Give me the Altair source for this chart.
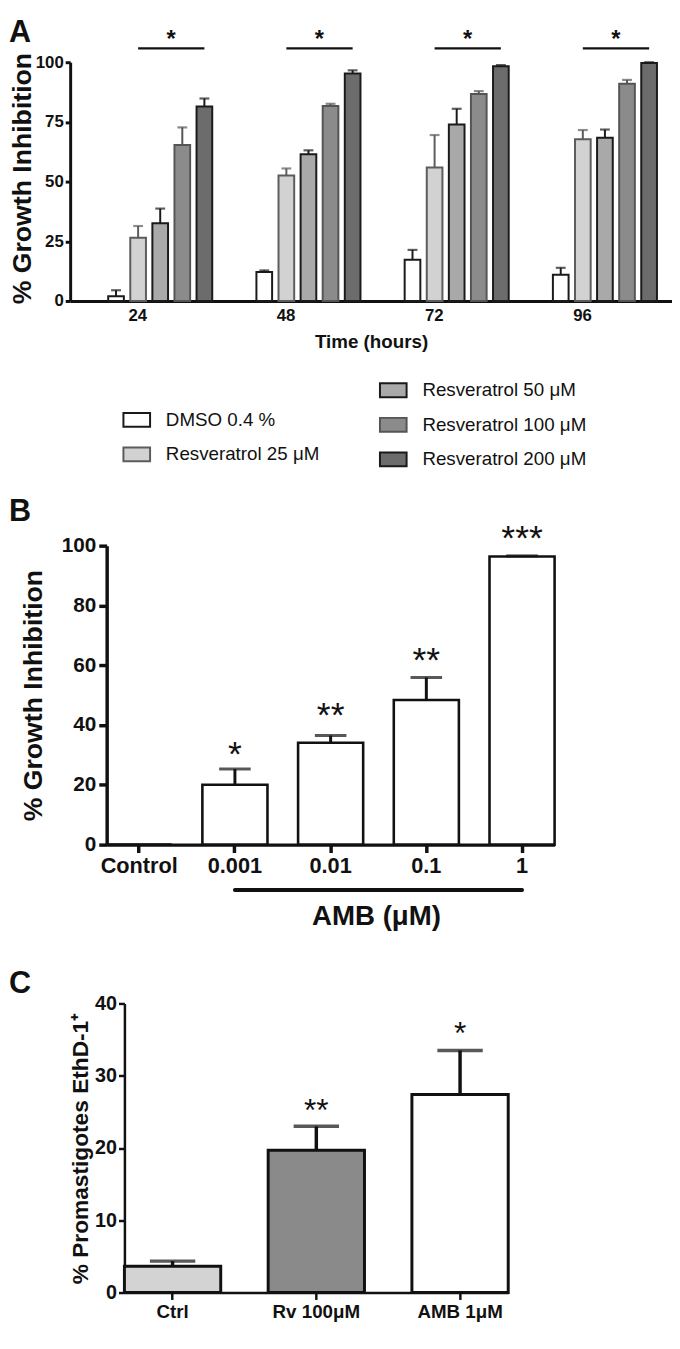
import altair as alt
import pandas as pd

FONT = "Liberation Sans"
BLACK = "#111111"

# ---------------- Panel A data ----------------
times = ["24", "48", "72", "96"]
series_names = ["DMSO 0.4 %", "Resveratrol 25 μM", "Resveratrol 50 μM",
                "Resveratrol 100 μM", "Resveratrol 200 μM"]
dmso = [2.0, 12.1, 17.3, 11.0]
dmso_sem = [2.5, 0.7, 4.1, 2.9]
rv25 = [26.5, 52.6, 55.9, 67.7]
rv25_sem = [4.9, 2.9, 13.6, 3.9]
rv50 = [32.6, 61.5, 73.9, 68.4]
rv50_sem = [6.1, 1.6, 6.6, 3.4]
rv100 = [65.3, 81.7, 86.7, 91.0]
rv100_sem = [7.4, 0.9, 1.2, 1.6]
rv200 = [81.5, 95.3, 98.3, 99.7]
rv200_sem = [3.3, 1.3, 0.5, 0.3]
a_fills = ["#ffffff", "#d2d2d2", "#a9a9a9", "#8b8b8b", "#6c6c6c"]
a_strokes = ["#1a1a1a", "#5c5c5c", "#1a1a1a", "#555555", "#1a1a1a"]
a_sig_level = 105.8
a_star_level = 111.2

# ---------------- Panel B data ----------------
b_cats = ["Control", "0.001", "0.01", "0.1", "1"]
b_vals = [0.0, 20.0, 34.1, 48.4, 96.4]
b_sem = [0.0, 5.3, 2.4, 7.5, 0.2]
b_stars = ["", "*", "**", "**", "***"]
b_star_y = [0.0, 33.3, 46.2, 64.7, 105.6]

# ---------------- Panel C data ----------------
c_cats = ["Ctrl", "Rv 100μM", "AMB 1μM"]
c_vals = [3.65, 19.7, 27.4]
c_sem = [0.7, 3.3, 6.1]
c_fills = ["#d3d3d3", "#8a8a8a", "#ffffff"]
c_stars = ["", "**", "*"]
c_star_y = [0.0, 26.4, 37.0]

# ---------------- tables ----------------
rows = []
for name, vals, sems in zip(series_names, [dmso, rv25, rv50, rv100, rv200],
                            [dmso_sem, rv25_sem, rv50_sem, rv100_sem, rv200_sem]):
    for t, v, s in zip(times, vals, sems):
        rows.append({"time": t, "series": name, "value": v, "upper": v + s})
dfA = pd.DataFrame(rows)

left_names = series_names[:2]
right_names = series_names[2:]

sig_rows = []
for t in times:
    sig_rows.append({"time": t, "series": series_names[1], "value": a_sig_level})
    sig_rows.append({"time": t, "series": series_names[4], "value": a_sig_level})
dfSig = pd.DataFrame(sig_rows)
dfStarA = pd.DataFrame({"time": times, "series": [series_names[2]] * 4,
                        "value": [a_star_level] * 4, "label": ["*"] * 4})

dfB = pd.DataFrame({"cat": b_cats, "value": b_vals,
                    "upper": [v + s for v, s in zip(b_vals, b_sem)],
                    "label": b_stars, "star": b_star_y})
dfC = pd.DataFrame({"cat": c_cats, "value": c_vals,
                    "upper": [v + s for v, s in zip(c_vals, c_sem)],
                    "label": c_stars, "star": c_star_y})

LETTER_X = -62  # panel letters sit at the far left of every panel


def y_enc(field, domain, values, title, title_size, label_size, tick_size, width,
          title_pad, label_pad=2, offset=0):
    return alt.Y(f"{field}:Q", title=title,
                 scale=alt.Scale(domain=domain, nice=False, zero=True),
                 axis=alt.Axis(values=values, tickSize=tick_size, tickWidth=width,
                               domainWidth=width, labelFontSize=label_size,
                               titleFontSize=title_size, titlePadding=title_pad,
                               labelPadding=label_pad, grid=False, offset=offset))


def letter(txt, y, opacity=1.0):
    return alt.Chart(pd.DataFrame({"t": [txt]})).mark_text(
        align="left", baseline="alphabetic", fontSize=31, fontWeight="bold",
        font=FONT, color=BLACK, opacity=opacity).encode(
        text="t:N", x=alt.value(LETTER_X), y=alt.value(y))


# ================= Panel A =================
WA, HA = 610, 242


def xA():
    return alt.X("time:N", sort=times, title="Time (hours)",
                 scale=alt.Scale(domain=times, paddingInner=0, paddingOuter=0.03),
                 axis=alt.Axis(labelAngle=0, ticks=False, tickSize=0, labelOffset=-11,
                               labelPadding=7, labelFontSize=17, titleFontSize=19,
                               titlePadding=9, domainWidth=3))


def xoA():
    return alt.XOffset("series:N", sort=series_names,
                       scale=alt.Scale(domain=series_names, paddingInner=0.29,
                                       paddingOuter=1.0, align=0.76))


def yA(field="value"):
    return y_enc(field, [0, 100], [0, 25, 50, 75, 100], None, 27, 17, 5, 3, 3)


SYM = "M-1,-0.52L1,-0.52L1,0.52L-1,0.52Z"


def legendA(lx, ly):
    return alt.Legend(orient="none", legendX=lx, legendY=ly, title=None,
                      direction="vertical", symbolType=SYM, symbolSize=729,
                      symbolStrokeWidth=2, symbolOpacity=1, labelFont=FONT,
                      labelFontSize=19, labelFontWeight="normal", labelColor=BLACK,
                      labelOffset=15, labelLimit=400, rowPadding=9, padding=0)


def bar_group(names, fills, strokes, lx, ly):
    sub = dfA[dfA["series"].isin(names)]
    return alt.Chart(sub).mark_bar(strokeWidth=2, strokeJoin="miter").encode(
        x=xA(), xOffset=xoA(), y=yA(),
        fill=alt.Fill("series:N", sort=names,
                      scale=alt.Scale(domain=names, range=fills),
                      legend=legendA(lx, ly)),
        stroke=alt.Stroke("series:N", sort=names,
                          scale=alt.Scale(domain=names, range=strokes),
                          legend=legendA(lx, ly)),
    )


barsL = bar_group(left_names, a_fills[:2], a_strokes[:2], 53, 348)
barsR = bar_group(right_names, a_fills[2:], a_strokes[2:], 313, 318)

err_layers = []
for name, col in zip(series_names, a_strokes):
    sub = dfA[dfA["series"] == name]
    err_layers.append(alt.Chart(sub).mark_rule(color=col, strokeWidth=2).encode(
        x=xA(), xOffset=xoA(), y=yA(), y2="upper:Q"))
    err_layers.append(alt.Chart(sub).mark_tick(color=col, thickness=2.2, size=10).encode(
        x=xA(), xOffset=xoA(), y=yA("upper")))

sigA = alt.Chart(dfSig).mark_line(color=BLACK, strokeWidth=2.5).encode(
    x=xA(), xOffset=xoA(), y=yA(), detail="time:N")
starA = alt.Chart(dfStarA).mark_text(fontSize=24, fontWeight="bold", font=FONT,
                                     color=BLACK, dx=11, dy=5, baseline="middle").encode(
    x=xA(), xOffset=xoA(), y=yA(), text="label:N")
titleA = alt.Chart(pd.DataFrame({"t": ["% Growth Inhibition"]})).mark_text(
    angle=270, align="center", baseline="alphabetic", fontSize=27, fontWeight="bold",
    font=FONT, color=BLACK).encode(text="t:N", x=alt.value(-40), y=alt.value(118))

panelA = alt.layer(barsL, barsR, *err_layers, sigA, starA, titleA,
                   letter("A", -21)).resolve_scale(
    fill="independent", stroke="independent").properties(width=WA, height=HA)

# ================= Panel B =================
B_OFF = 37          # y axis of B sits 37 px right of the shared origin
WB, HB = 454, 303
xB = alt.X("cat:N", sort=b_cats, title="AMB (μM)",
           scale=alt.Scale(domain=b_cats, range=[B_OFF, B_OFF + WB],
                           paddingInner=0.32, paddingOuter=0),
           axis=alt.Axis(labelAngle=0, tickSize=8, tickWidth=3.5, domainWidth=3.5,
                         labelFontSize=22, labelPadding=3, titleFontSize=28,
                         titleX=310, titleY=73, titleBaseline="middle",
                         titleAlign="center"))


def yB(field="value"):
    return y_enc(field, [0, 100], [0, 20, 40, 60, 80, 100], "% Growth Inhibition",
                 27, 21, 8, 3.5, 14, 3, offset=-B_OFF)


barsB = alt.Chart(dfB).mark_bar(fill="white", stroke=BLACK, strokeWidth=2.6).encode(
    x=xB, y=yB())
dfBe = dfB[dfB["cat"] != "Control"]
errB = alt.Chart(dfBe).mark_rule(color=BLACK, strokeWidth=3).encode(
    x=xB, y=yB(), y2="upper:Q")
capB = alt.Chart(dfBe).mark_tick(color=BLACK, thickness=3, size=32).encode(
    x=xB, y=yB("upper"))
starB = alt.Chart(dfBe).mark_text(fontSize=36, font=FONT, color=BLACK, dy=10,
                                  baseline="middle").encode(
    x=xB, y=yB("star"), text="label:N")
ambLine = alt.Chart(pd.DataFrame({"a": [b_cats[1]], "b": [b_cats[4]]})).mark_rule(
    color=BLACK, strokeWidth=4, strokeCap="round").encode(
    x=alt.X("a:N", sort=b_cats, title="AMB (μM)"), x2="b:N", y=alt.value(HB + 46))

panelB = alt.layer(barsB, errB, capB, starB, ambLine, letter("B", -25),
                   letter("B", -33, opacity=0)).properties(
    width=B_OFF + WB, height=HB)

# ================= Panel C =================
C_OFF = 55
WC, HC = 389, 293
xC = alt.X("cat:N", sort=c_cats, title=None,
           scale=alt.Scale(domain=c_cats, range=[C_OFF, C_OFF + WC],
                           paddingInner=0.33, paddingOuter=0),
           axis=alt.Axis(labelAngle=0, tickSize=7, tickWidth=2.5, domainWidth=2.5,
                         labelFontSize=19, labelPadding=3))


def yC(field="value"):
    return y_enc(field, [0, 40], [0, 10, 20, 30, 40], "% Promastigotes EthD-1⁺",
                 23, 20, 6, 2.5, 2, 2, offset=-C_OFF)


barsC = alt.Chart(dfC).mark_bar(stroke=BLACK, strokeWidth=3).encode(
    x=xC, y=yC(),
    fill=alt.Fill("cat:N", sort=c_cats, scale=alt.Scale(domain=c_cats, range=c_fills),
                  legend=None))
errC = alt.Chart(dfC).mark_rule(color=BLACK, strokeWidth=3.5).encode(
    x=xC, y=yC(), y2="upper:Q")
capC = alt.Chart(dfC).mark_tick(color=BLACK, thickness=3.5, size=46).encode(
    x=xC, y=yC("upper"))
starC = alt.Chart(dfC[dfC["label"] != ""]).mark_text(fontSize=32, font=FONT, color=BLACK,
                                                      dy=9, baseline="middle").encode(
    x=xC, y=yC("star"), text="label:N")

panelC = alt.layer(barsC, errC, capC, starC, letter("C", -11),
                   letter("C", -31, opacity=0)).properties(
    width=C_OFF + WC, height=HC)

chart = alt.vconcat(panelA, panelB, panelC, spacing=18).properties(
    padding=0
).configure_axis(
    labelFont=FONT, titleFont=FONT, labelFontWeight="bold", titleFontWeight="bold",
    labelColor=BLACK, titleColor=BLACK, domainColor=BLACK, tickColor=BLACK, grid=False
).configure_view(stroke=None)

chart.save("out.html", embed_options={"renderer": "svg", "actions": False})
